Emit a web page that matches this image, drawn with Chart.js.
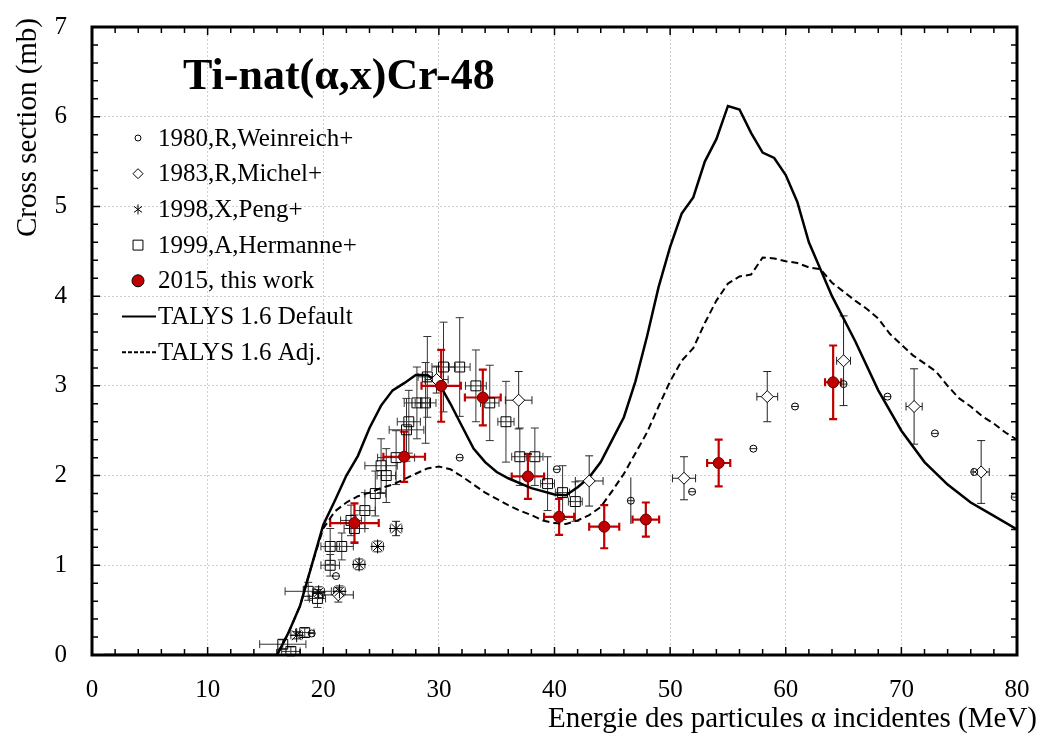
<!DOCTYPE html>
<html>
<head>
<meta charset="utf-8">
<script src="https://cdn.jsdelivr.net/npm/chart.js@4.4.1/dist/chart.umd.min.js"></script>
<style>
    body { margin: 0; background: #fff; }
    canvas { display: block; }
</style>
</head>
<body>
<canvas id="xsChart" width="1042" height="738"></canvas>
<script>
// Values (energy in MeV, cross section in mb)

// 1980, R, Weinreich+
const weinE   = [19.0, 21.1, 31.8, 40.2, 46.6, 51.9, 57.2, 60.8, 65.0, 68.8, 72.9, 76.3, 79.8];
const weinXs  = [0.24, 0.88, 2.20, 2.07, 1.72, 1.82, 2.30, 2.77, 3.02, 2.88, 2.47, 2.04, 1.76];
const weinDy  = [0, 0, 0, 0, 0.26, 0, 0, 0, 0, 0, 0, 0, 0];
const weinDx  = [0.3, 0.3, 0.3, 0.3, 0.3, 0.3, 0.3, 0.3, 0.3, 0.3, 0.3, 0.3, 0.3];

// 1983, R, Michel+
const michE   = [21.3, 29.8, 36.9, 43.0, 51.2, 58.4, 65.0, 71.1, 76.9];
const michXs  = [0.67, 3.07, 2.84, 1.94, 1.97, 2.88, 3.28, 2.77, 2.04];
const michDy  = [0.08, 0.15, 0.32, 0.28, 0.24, 0.28, 0.50, 0.42, 0.35];
const michDx  = [1.3, 1.0, 1.15, 1.2, 1.0, 0.9, 0.6, 0.7, 0.7];

// 1998, X, Peng+
const pengE   = [17.7, 19.6, 21.4, 23.1, 24.7, 26.3];
const pengXs  = [0.22, 0.70, 0.71, 1.01, 1.21, 1.41];
const pengDy  = [0.04, 0.06, 0.06, 0.06, 0.06, 0.08];
const pengDx  = [0.5, 0.5, 0.5, 0.5, 0.5, 0.5];

// 1999, A, Hermanne+
const hermE   = [16.5, 17.2, 18.4, 18.7, 19.5, 20.6, 20.6, 21.6, 22.4, 22.7, 23.6, 24.5, 25.0, 25.45, 26.3,
                 27.2, 27.4, 28.1, 28.85, 29.0, 30.4, 31.8, 33.2, 34.4, 35.8, 37.0, 38.3, 39.4, 40.7, 41.8];
const hermXs  = [0.12, 0.04, 0.25, 0.71, 0.63, 1.00, 1.21, 1.21, 1.50, 1.41, 1.61, 1.80, 2.11, 2.00, 2.20,
                 2.51, 2.60, 2.81, 2.81, 3.10, 3.21, 3.21, 3.00, 2.81, 2.60, 2.21, 2.21, 1.91, 1.81, 1.71];
const hermDy  = [0.05, 0.05, 0.05, 0.10, 0.10, 0.12, 0.20, 0.15, 0.17, 0.15, 0.20, 0.25, 0.30, 0.30, 0.30,
                 0.35, 0.35, 0.40, 0.45, 0.45, 0.50, 0.55, 0.40, 0.42, 0.45, 0.32, 0.32, 0.30, 0.30, 0.22];
const hermDx  = [2.0, 0.8, 0.8, 2.0, 0.7, 0.8, 0.8, 1.0, 0.9, 0.9, 0.9, 0.9, 1.4, 0.8, 1.6,
                 1.5, 1.0, 1.1, 0.9, 0.8, 1.0, 0.9, 0.9, 0.8, 0.7, 0.7, 0.7, 0.6, 0.6, 0.6];

// 2015, this work
const thisE   = [22.7, 27.0, 30.2, 33.8, 37.7, 40.4, 44.3, 47.9, 54.2, 64.1];
const thisXs  = [1.47, 2.21, 3.00, 2.87, 1.99, 1.54, 1.43, 1.51, 2.14, 3.04];
const thisDy  = [0.22, 0.28, 0.40, 0.31, 0.25, 0.20, 0.24, 0.19, 0.26, 0.41];
const thisDx  = [2.1, 1.8, 1.7, 1.55, 1.4, 1.3, 1.3, 1.15, 1.0, 0.7];

// TALYS 1.6 Default
const talysE   = [1, 16, 17, 18, 19, 20, 21, 22, 23, 24, 25, 26, 27, 28, 29, 30, 31, 32, 33, 34, 35, 36, 38, 40, 41,
                  42, 43, 44, 45, 46, 47, 48, 49, 50, 51, 52, 53, 54, 55, 56, 57, 58, 59, 60, 61, 62, 63, 64,
                  66, 68, 70, 72, 74, 76, 78, 80];
const talysDef = [0, 0, 0.25, 0.55, 1.0, 1.45, 1.72, 2.0, 2.22, 2.53, 2.78, 2.95, 3.03, 3.12, 3.12, 3.03, 2.8, 2.55,
                  2.3, 2.15, 2.04, 1.97, 1.86, 1.79, 1.78, 1.87, 1.98, 2.15, 2.4, 2.65, 3.05, 3.55, 4.1, 4.55,
                  4.92, 5.1, 5.5, 5.75, 6.12, 6.08, 5.82, 5.6, 5.54, 5.35, 5.05, 4.6, 4.3, 4.0,
                  3.5, 2.95, 2.5, 2.15, 1.9, 1.7, 1.55, 1.4];

// TALYS 1.6 Adj.
const adjE   = [1, 16, 17, 18, 19, 20, 21, 22, 23, 24, 25, 26, 27, 28, 29, 30, 31, 32, 33, 34, 35, 36, 37, 38, 39, 40,
                41, 42, 43, 44, 45, 46, 47, 48, 49, 50, 51, 52, 53, 54, 55, 56, 57, 58, 59, 60, 61, 62, 63, 64,
                65, 66, 67, 68, 69, 70, 71, 72, 73, 74, 75, 76, 77, 78, 79, 80];
const talysAdj = [0, 0, 0.25, 0.55, 1.0, 1.41, 1.6, 1.7, 1.77, 1.81, 1.86, 1.9, 1.96, 2.02, 2.08, 2.1, 2.07, 1.99,
                  1.9, 1.81, 1.74, 1.67, 1.61, 1.56, 1.5, 1.47, 1.46, 1.5, 1.56, 1.65, 1.83, 2.02, 2.25, 2.48,
                  2.77, 3.05, 3.28, 3.42, 3.7, 3.95, 4.14, 4.22, 4.24, 4.43, 4.42, 4.39, 4.37, 4.32, 4.3, 4.15,
                  4.05, 3.95, 3.86, 3.75, 3.58, 3.46, 3.34, 3.25, 3.16, 3.0, 2.86, 2.77, 2.66, 2.58, 2.48, 2.4];

const xTicks = [0, 10, 20, 30, 40, 50, 60, 70, 80];
const yTicks = [0, 1, 2, 3, 4, 5, 6, 7];

const SERIF = '"Liberation Serif", "Times New Roman", serif';
const RED = '#c00000';

function pts(xs, ys) {
    return xs.map((x, i) => ({ x: x, y: ys[i] }));
}

// error bars, drawn under the markers
const errorBars = {
    id: 'errorBars',
    beforeDatasetsDraw(chart) {
        const ctx = chart.ctx;
        const sx = chart.scales.x, sy = chart.scales.y;
        chart.data.datasets.forEach(ds => {
            if (!ds.errX) return;
            ctx.save();
            ctx.strokeStyle = ds.errColor;
            ctx.lineWidth = ds.errWidth;
            const cap = ds.errCap;
            ds.data.forEach((p, k) => {
                const px = sx.getPixelForValue(p.x);
                const py = sy.getPixelForValue(p.y);
                const dx = ds.errX[k], dy = ds.errY[k];
                ctx.beginPath();
                if (dx) {
                    const x0 = sx.getPixelForValue(p.x - dx);
                    const x1 = sx.getPixelForValue(p.x + dx);
                    ctx.moveTo(x0, py); ctx.lineTo(x1, py);
                    if (cap) {
                        ctx.moveTo(x0, py - cap); ctx.lineTo(x0, py + cap);
                        ctx.moveTo(x1, py - cap); ctx.lineTo(x1, py + cap);
                    }
                }
                if (dy) {
                    const y0 = sy.getPixelForValue(p.y - dy);
                    const y1 = sy.getPixelForValue(p.y + dy);
                    ctx.moveTo(px, y0); ctx.lineTo(px, y1);
                    if (cap) {
                        ctx.moveTo(px - cap, y0); ctx.lineTo(px + cap, y0);
                        ctx.moveTo(px - cap, y1); ctx.lineTo(px + cap, y1);
                    }
                }
                ctx.stroke();
            });
            ctx.restore();
        });
    }
};

// frame, inward ticks, title, legend and axis titles
const decorations = {
    id: 'decorations',
    afterDraw(chart) {
        const ctx = chart.ctx;
        const a = chart.chartArea;
        const sx = chart.scales.x, sy = chart.scales.y;
        ctx.save();
        ctx.strokeStyle = '#000';
        ctx.lineWidth = 1.5;
        ctx.beginPath();
        for (let v = 0; v <= 80; v += 2) {
            const x = sx.getPixelForValue(v);
            const len = v % 10 === 0 ? 8 : 6;
            ctx.moveTo(x, a.bottom); ctx.lineTo(x, a.bottom - len);
            ctx.moveTo(x, a.top); ctx.lineTo(x, a.top + len);
        }
        for (let i = 0; i <= 35; i++) {
            const y = sy.getPixelForValue(i / 5);
            const len = i % 5 === 0 ? 8 : 6;
            ctx.moveTo(a.left, y); ctx.lineTo(a.left + len, y);
            ctx.moveTo(a.right, y); ctx.lineTo(a.right - len, y);
        }
        ctx.stroke();

        ctx.lineWidth = 3;
        ctx.strokeRect(a.left, a.top, a.right - a.left, a.bottom - a.top);

        // chart title
        ctx.fillStyle = '#000';
        ctx.font = 'bold 44px ' + SERIF;
        ctx.textAlign = 'left';
        ctx.textBaseline = 'alphabetic';
        ctx.fillText('Ti-nat(α,x)Cr-48', 183, 89);

        // legend
        const rows = [
            { label: '1980,R,Weinreich+', style: 'circle', r: 3, fill: '#fff' },
            { label: '1983,R,Michel+', style: 'rectRot', r: 5, fill: '#fff' },
            { label: '1998,X,Peng+', style: 'cross', r: 5, fill: '#fff' },
            { label: '1999,A,Hermanne+', style: 'rect', r: 7, fill: '#fff' },
            { label: '2015, this work', style: 'circle', r: 6, fill: RED },
            { label: 'TALYS 1.6 Default', line: [] },
            { label: 'TALYS 1.6 Adj.', line: [4, 2] }
        ];
        ctx.font = '25px ' + SERIF;
        ctx.textBaseline = 'middle';
        rows.forEach((row, i) => {
            const y = 138 + i * 35.7;
            if (row.line) {
                ctx.save();
                ctx.lineWidth = 2;
                ctx.setLineDash(row.line);
                ctx.beginPath();
                ctx.moveTo(122, y); ctx.lineTo(156, y);
                ctx.stroke();
                ctx.restore();
            } else {
                ctx.save();
                ctx.fillStyle = row.fill;
                ctx.strokeStyle = '#000';
                ctx.lineWidth = 1;
                if (row.style === 'cross') {
                    ctx.beginPath();
                    ctx.moveTo(138, y - 5); ctx.lineTo(138, y + 5);
                    ctx.moveTo(134, y - 3); ctx.lineTo(142, y + 3);
                    ctx.moveTo(134, y + 3); ctx.lineTo(142, y - 3);
                    ctx.stroke();
                } else {
                    Chart.helpers.drawPoint(ctx, { pointStyle: row.style, radius: row.r, rotation: 0, borderWidth: 1 }, 138, y);
                }
                ctx.restore();
            }
            ctx.fillStyle = '#000';
            ctx.fillText(row.label, 158, y + 1);
        });

        // axis titles
        ctx.font = '29px ' + SERIF;
        ctx.textAlign = 'right';
        ctx.textBaseline = 'middle';
        ctx.fillText('Energie des particules α incidentes (MeV)', 1037, 719);
        ctx.translate(28, 18);
        ctx.rotate(-Math.PI / 2);
        ctx.fillText('Cross section (mb)', 0, 0);
        ctx.restore();
    }
};

function expSet(label, data, dx, dy, opts) {
    return Object.assign({
        label: label,
        data: data,
        errX: dx,
        errY: dy,
        errColor: '#222',
        errWidth: 1,
        errCap: 4,
        borderColor: '#000',
        borderWidth: 1,
        backgroundColor: 'rgba(0,0,0,0)',
        showLine: false,
        order: 1
    }, opts);
}

const ctx = document.getElementById('xsChart');
new Chart(ctx, {
    type: 'scatter',
    data: {
        datasets: [
            {
                label: 'TALYS 1.6 Default',
                data: pts(talysE, talysDef),
                showLine: true,
                borderColor: '#000',
                borderWidth: 2.5,
                pointRadius: 0,
                tension: 0,
                order: 3
            },
            {
                label: 'TALYS 1.6 Adj.',
                data: pts(adjE, talysAdj),
                showLine: true,
                borderColor: '#000',
                borderWidth: 2,
                borderDash: [7, 4],
                pointRadius: 0,
                tension: 0,
                order: 3
            },
            expSet('1980,R,Weinreich+', pts(weinE, weinXs), weinDx, weinDy,
                { pointStyle: 'circle', pointRadius: 3.5, errCap: 0 }),
            expSet('1999,A,Hermanne+', pts(hermE, hermXs), hermDx, hermDy,
                { pointStyle: 'rect', pointRadius: 7, errColor: '#333' }),
            expSet('1998,X,Peng+', pts(pengE, pengXs), pengDx, pengDy,
                { pointStyle: 'star', pointRadius: 7 }),
            expSet('1983,R,Michel+', pts(michE, michXs), michDx, michDy,
                { pointStyle: 'rectRot', pointRadius: 6, backgroundColor: '#fff' }),
            expSet('2015, this work', pts(thisE, thisXs), thisDx, thisDy,
                { pointStyle: 'circle', pointRadius: 5.5, backgroundColor: RED, borderColor: '#600',
                  errColor: RED, errWidth: 2.2, errCap: 4, order: 0 })
        ]
    },
    options: {
        responsive: false,
        animation: false,
        events: [],
        layout: { padding: { top: 27, right: 25, left: 0, bottom: 0 } },
        plugins: {
            legend: { display: false },
            tooltip: { enabled: false }
        },
        scales: {
            x: {
                type: 'linear',
                min: 0,
                max: 80,
                afterFit(scale) {
                    scale.height = 83;
                    scale.paddingLeft = 0;
                    scale.paddingRight = 0;
                },
                afterBuildTicks(scale) { scale.ticks = xTicks.map(v => ({ value: v })); },
                ticks: {
                    color: '#000',
                    padding: 20,
                    font: { family: SERIF, size: 25 }
                },
                grid: { color: '#cfcfcf', lineWidth: 1, drawTicks: false },
                border: { display: false, dash: [2, 2] }
            },
            y: {
                type: 'linear',
                min: 0,
                max: 7,
                afterFit(scale) {
                    scale.width = 92;
                    scale.paddingTop = 0;
                    scale.paddingBottom = 0;
                },
                afterBuildTicks(scale) { scale.ticks = yTicks.map(v => ({ value: v })); },
                ticks: {
                    color: '#000',
                    padding: 25,
                    font: { family: SERIF, size: 25 }
                },
                grid: { color: '#cfcfcf', lineWidth: 1, drawTicks: false },
                border: { display: false, dash: [2, 2] }
            }
        }
    },
    plugins: [errorBars, decorations]
});
</script>
</body>
</html>
